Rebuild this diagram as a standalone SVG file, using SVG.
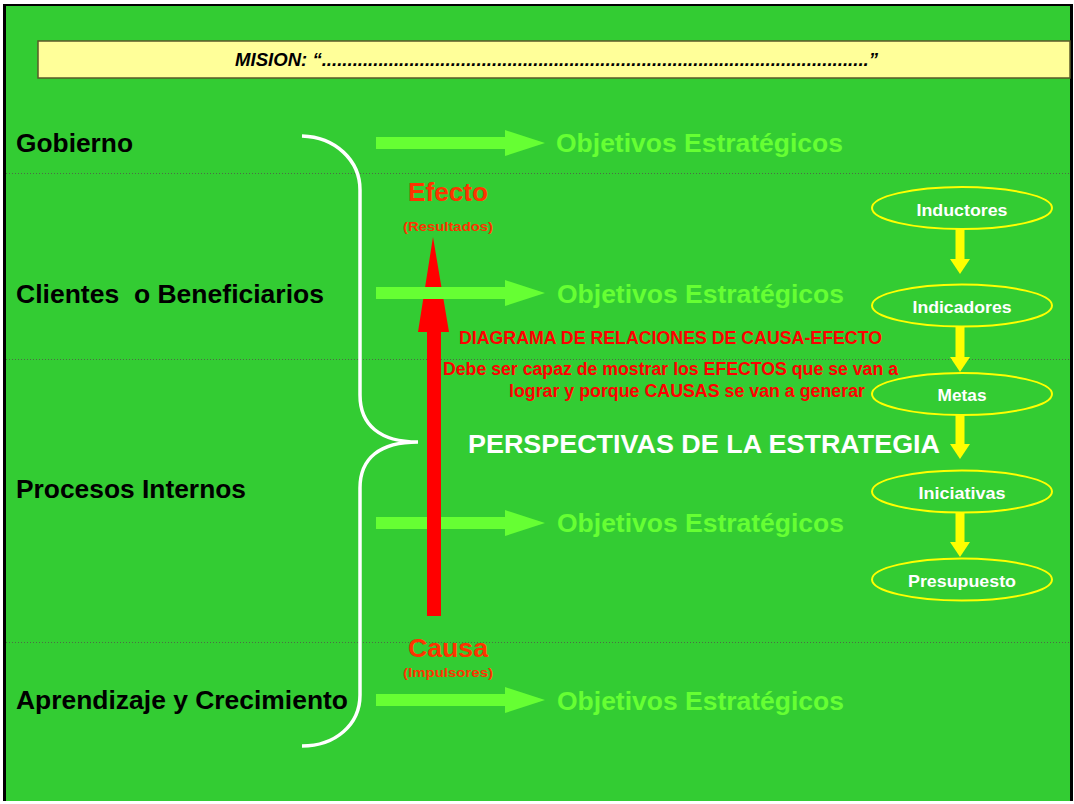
<svg xmlns="http://www.w3.org/2000/svg" width="1074" height="804" viewBox="0 0 1074 804">
<style>
text{font-family:"Liberation Sans",Arial,sans-serif;font-weight:bold}
.lbl{font-size:26px;fill:#000}
.obj{font-size:26px;fill:#66FF33}
.ell{fill:none;stroke:#FFFF00;stroke-width:2}
.et{font-size:17px;fill:#FFFFFF;text-anchor:middle}
.ce{fill:#FF3300;text-anchor:middle}
.red{fill:#FF0000;font-size:17.5px}
.sep{stroke:#4d6b45;stroke-width:1;stroke-dasharray:1 2}
.ys{fill:#FFFF00}
</style>
<defs>
<path id="garrow" d="M0,-6 L129,-6 L129,-13 L169,0 L129,13 L129,6 L0,6 Z" fill="#66FF33"/>
</defs>
<rect x="0" y="0" width="1074" height="804" fill="#FFFFFF"/>
<rect x="3" y="4" width="1070" height="797" fill="#000000"/>
<rect x="6" y="6" width="1064" height="795" fill="#33CC33"/>

<g id="separators">
<line class="sep" x1="6" y1="173.5" x2="1070" y2="173.5"/>
<line class="sep" x1="6" y1="359.5" x2="1070" y2="359.5"/>
<line class="sep" x1="6" y1="642.5" x2="1070" y2="642.5"/>
</g>

<g id="mision">
<rect x="38" y="41" width="1032" height="37" fill="#FFFF99" stroke="#5a5a2a" stroke-width="1.5"/>
<text x="235" y="66" font-size="18.5" font-style="italic" textLength="643" lengthAdjust="spacingAndGlyphs">MISION: “..........................................................................................................”</text>
</g>

<g id="labels">
<text class="lbl" x="16" y="152" textLength="117" lengthAdjust="spacingAndGlyphs">Gobierno</text>
<text class="lbl" x="16" y="303" textLength="308" lengthAdjust="spacingAndGlyphs" xml:space="preserve">Clientes  o Beneficiarios</text>
<text class="lbl" x="16" y="498" textLength="230" lengthAdjust="spacingAndGlyphs">Procesos Internos</text>
<text class="lbl" x="16" y="709" textLength="332" lengthAdjust="spacingAndGlyphs">Aprendizaje y Crecimiento</text>
</g>

<g id="brace">
<path d="M302,136 C335,137 360,160 360,190 L360,395 C360,425 380,442 418,442 C380,442 360,458 360,488 L360,695 C360,725 335,746 302,746" fill="none" stroke="#FFFFFF" stroke-width="3.5"/>
</g>

<g id="connectors">
<use href="#garrow" x="376" y="143"/>
<use href="#garrow" x="376" y="523"/>
<use href="#garrow" x="376" y="700"/>
<path d="M427,616 L427,332 L418,332 L433,237 L449,332 L441,332 L441,616 Z" fill="#FF0000"/>
<use href="#garrow" x="376" y="293"/>
<rect class="ys" x="955.5" y="229" width="9" height="31"/>
<path class="ys" d="M950,259 L970,259 L960,274 Z"/>
<rect class="ys" x="955.5" y="327" width="9" height="31"/>
<path class="ys" d="M950,357 L970,357 L960,372 Z"/>
<rect class="ys" x="955.5" y="415" width="9" height="30"/>
<path class="ys" d="M950,444 L970,444 L960,459 Z"/>
<rect class="ys" x="955.5" y="513" width="9" height="30"/>
<path class="ys" d="M950,542 L970,542 L960,557 Z"/>
</g>

<g id="objetivos">
<text class="obj" x="556" y="152" textLength="287" lengthAdjust="spacingAndGlyphs">Objetivos Estratégicos</text>
<text class="obj" x="557" y="303" textLength="287" lengthAdjust="spacingAndGlyphs">Objetivos Estratégicos</text>
<text class="obj" x="557" y="532" textLength="287" lengthAdjust="spacingAndGlyphs">Objetivos Estratégicos</text>
<text class="obj" x="557" y="710" textLength="287" lengthAdjust="spacingAndGlyphs">Objetivos Estratégicos</text>
</g>

<g id="efecto">
<text class="ce" x="448" y="201" font-size="25" textLength="80" lengthAdjust="spacingAndGlyphs">Efecto</text>
<text class="ce" x="448" y="231" font-size="13" textLength="90" lengthAdjust="spacingAndGlyphs">(Resultados)</text>
</g>
<g id="causa">
<text class="ce" x="448" y="657" font-size="25" textLength="80" lengthAdjust="spacingAndGlyphs">Causa</text>
<text class="ce" x="448" y="677" font-size="13" textLength="90" lengthAdjust="spacingAndGlyphs">(Impulsores)</text>
</g>

<g id="diagrama">
<text class="red" x="459" y="344" textLength="423" lengthAdjust="spacingAndGlyphs">DIAGRAMA DE RELACIONES DE CAUSA-EFECTO</text>
<text class="red" x="443" y="375" textLength="455" lengthAdjust="spacingAndGlyphs">Debe ser capaz de mostrar los EFECTOS que se van a</text>
<text class="red" x="509" y="397" textLength="356" lengthAdjust="spacingAndGlyphs">lograr y porque CAUSAS se van a generar</text>
</g>

<g id="perspectivas">
<text x="468" y="453" font-size="26" fill="#FFFFFF" textLength="472" lengthAdjust="spacingAndGlyphs">PERSPECTIVAS DE LA ESTRATEGIA</text>
</g>

<g id="inductores">
<ellipse class="ell" cx="962" cy="208" rx="90" ry="21"/>
<text class="et" x="962" y="216" textLength="91" lengthAdjust="spacingAndGlyphs">Inductores</text>
</g>
<g id="indicadores">
<ellipse class="ell" cx="962" cy="305.5" rx="90" ry="21"/>
<text class="et" x="962" y="313" textLength="99" lengthAdjust="spacingAndGlyphs">Indicadores</text>
</g>
<g id="metas">
<ellipse class="ell" cx="962" cy="394" rx="90" ry="21"/>
<text class="et" x="962" y="401" textLength="49" lengthAdjust="spacingAndGlyphs">Metas</text>
</g>
<g id="iniciativas">
<ellipse class="ell" cx="962" cy="491.5" rx="90" ry="21"/>
<text class="et" x="962" y="499" textLength="87" lengthAdjust="spacingAndGlyphs">Iniciativas</text>
</g>
<g id="presupuesto">
<ellipse class="ell" cx="962" cy="579.5" rx="90" ry="21"/>
<text class="et" x="962" y="587" textLength="108" lengthAdjust="spacingAndGlyphs">Presupuesto</text>
</g>
</svg>
